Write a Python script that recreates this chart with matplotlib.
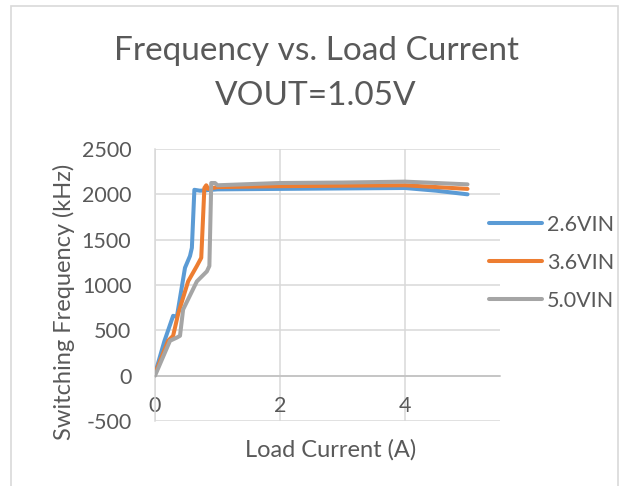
import matplotlib
matplotlib.use('Agg')
import matplotlib.pyplot as plt
from matplotlib.patches import Rectangle

# load current (A) and switching frequency (kHz)
i_26 = [0.0, 0.15, 0.29, 0.35, 0.48, 0.56, 0.59, 0.63, 0.72, 1.0, 2.0, 3.0, 4.0, 4.5, 5.0]
f_26 = [20, 380, 660, 650, 1190, 1320, 1410, 2050, 2040, 2055, 2060, 2065, 2070, 2040, 2000]

i_36 = [0.0, 0.21, 0.29, 0.37, 0.53, 0.67, 0.74, 0.79, 0.82, 0.85, 1.0, 2.0, 3.0, 4.0, 5.0]
f_36 = [20, 385, 440, 680, 1040, 1210, 1300, 2070, 2100, 2060, 2080, 2090, 2095, 2100, 2060]

i_50 = [0.0, 0.24, 0.35, 0.40, 0.45, 0.67, 0.83, 0.87, 0.90, 0.96, 1.0, 2.0, 3.0, 4.0, 5.0]
f_50 = [0, 385, 420, 440, 730, 1040, 1150, 1210, 2125, 2125, 2100, 2125, 2130, 2140, 2110]

names = ['2.6VIN', '3.6VIN', '5.0VIN']
colors = ['#5B9BD5', '#ED7D31', '#A5A5A5']

txt = '#595959'
grid = '#D9D9D9'
plt.rcParams['font.family'] = ['Lato', 'DejaVu Sans']
plt.rcParams['axes.unicode_minus'] = False

fig = plt.figure(figsize=(6.23, 4.86), dpi=100)
W, H = 623.0, 486.0
# chart border
fig.patches.append(Rectangle((11 / W, -0.05), (618 - 11) / W, 1.05 - 6 / H,
                             transform=fig.transFigure, fill=False,
                             edgecolor='#D9D9D9', linewidth=1.2))

ax = fig.add_axes([155 / W, 1 - 421 / H, (500 - 155) / W, (421 - 149) / H])

series = [(i_26, f_26), (i_36, f_36), (i_50, f_50)]
lines = []
for (x, y), c, n in zip(series, colors, names):
    l, = ax.plot(x, y, color=c, linewidth=2.9, label=n,
                 solid_joinstyle='round', solid_capstyle='round', zorder=3)
    lines.append(l)

ax.set_xlim(0, 5.52)
ax.set_ylim(-500, 2500)
ax.set_xticks([0, 2, 4])
ax.set_yticks(range(-500, 2501, 500))
ax.grid(True, color=grid, linewidth=1.1)
ax.set_axisbelow(True)
for s in ['top', 'right']:
    ax.spines[s].set_visible(False)
ax.spines['left'].set_color(grid)
ax.spines['left'].set_linewidth(1.1)
ax.spines['bottom'].set_position(('data', 0))
ax.spines['bottom'].set_color('#BFBFBF')
ax.spines['bottom'].set_linewidth(1.1)
ax.tick_params(length=0, labelsize=15.5, colors=txt)
ax.tick_params(axis='y', pad=17)
ax.tick_params(axis='x', pad=15)

fig.text(331 / W, 1 - 450 / H, 'Load Current (A)', ha='center', va='center',
         fontsize=17, color=txt)
fig.text(64 / W, 1 - 302 / H, 'Switching Frequency (kHz)', ha='center',
         va='center', rotation=90, fontsize=17, color=txt)
fig.text(316 / W, 1 - 51 / H, 'Frequency vs. Load Current', ha='center',
         va='center', fontsize=24, color=txt)
fig.text(316 / W, 1 - 96 / H, 'VOUT=1.05V', ha='center', va='center',
         fontsize=24, color=txt)

leg = fig.legend(handles=lines, loc='upper left',
                 bbox_to_anchor=(480 / W, 1 - 206 / H), frameon=False,
                 fontsize=15.5, handlelength=2.5, handletextpad=0.2,
                 labelspacing=0.84, borderaxespad=0)
for t in leg.get_texts():
    t.set_color(txt)

fig.savefig('out.png', dpi=100)
